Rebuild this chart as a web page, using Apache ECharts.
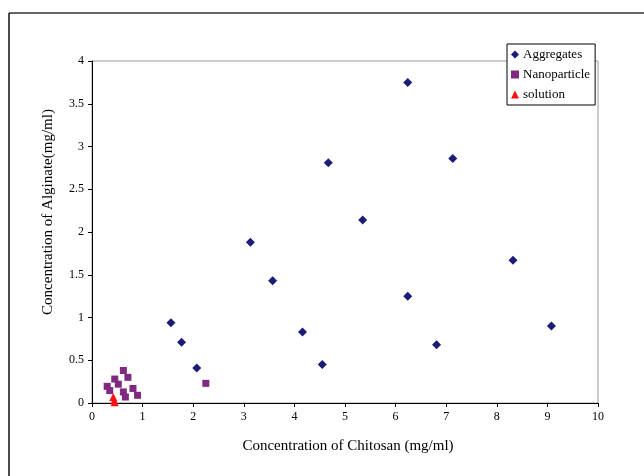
<!DOCTYPE html>
<html><head><meta charset="utf-8">
<script src="https://cdn.jsdelivr.net/npm/echarts@6/dist/echarts.min.js"></script>
<style>html,body{margin:0;padding:0;background:#fff}#c{width:644px;height:476px}</style>
</head><body><div id="c"></div>
<script>
const aggregates = [
  [1.56,0.94],[1.77,0.71],[2.07,0.41],[3.13,1.88],[3.57,1.43],[4.16,0.83],[4.55,0.45],
  [4.67,2.81],[5.35,2.14],[6.24,3.75],[6.24,1.25],[6.81,0.68],[7.13,2.86],[8.32,1.67],[9.08,0.90]
];
const nanoparticle = [
  [0.30,0.195],[0.35,0.145],[0.45,0.28],[0.52,0.22],[0.62,0.38],[0.71,0.30],
  [0.62,0.13],[0.66,0.07],[0.81,0.17],[0.90,0.09],[2.25,0.23]
];
const solution = [[0.42,0.07],[0.44,0.03],[0.45,0.01]];
const xTitle = 'Concentration of Chitosan (mg/ml)';
const yTitle = 'Concentration of Alginate(mg/ml)';
const font = '"Liberation Serif","Times New Roman",serif';
const chart = echarts.init(document.getElementById('c'));
chart.setOption({
  animation:false,
  textStyle:{fontFamily:font},
  graphic:[
    {type:'line',shape:{x1:9,y1:13,x2:644,y2:13},style:{stroke:'#333',lineWidth:1.5}},
    {type:'line',shape:{x1:9,y1:13,x2:9,y2:476},style:{stroke:'#111',lineWidth:1.5}},
    {type:'text',x:348,y:446,style:{text:xTitle,font:'15px '+font,fill:'#000',textAlign:'center',textVerticalAlign:'middle'}},
    {type:'text',x:48,y:212,rotation:Math.PI/2,style:{text:yTitle,font:'15px '+font,fill:'#000',textAlign:'center',textVerticalAlign:'middle'}}
  ],
  grid:{left:92,right:46,top:61,bottom:73,show:true,borderColor:'#999',borderWidth:1},
  legend:{
    left:507,top:44,orient:'vertical',itemGap:7,itemWidth:8,itemHeight:8,
    backgroundColor:'#fff',borderColor:'#000',borderWidth:1,padding:[4,5,4,4],
    textStyle:{fontFamily:font,fontSize:13,color:'#000',padding:[0,0,0,-1]},
    data:[{name:'Aggregates',icon:'diamond'},{name:'Nanoparticle',icon:'rect'},{name:'solution',icon:'triangle'}]
  },
  xAxis:{type:'value',min:0,max:10,interval:1,
    axisLine:{lineStyle:{color:'#000'}},axisTick:{lineStyle:{color:'#000'},length:4},
    axisLabel:{fontFamily:font,fontSize:12,color:'#000',margin:8},splitLine:{show:false}},
  yAxis:{type:'value',min:0,max:4,interval:0.5,
    axisLine:{show:true,lineStyle:{color:'#000'}},axisTick:{show:true,lineStyle:{color:'#000'},length:4},
    axisLabel:{fontFamily:font,fontSize:12,color:'#000',margin:8},splitLine:{show:false}},
  series:[
    {name:'Aggregates',type:'scatter',symbol:'diamond',symbolSize:9,data:aggregates,itemStyle:{color:'#1c1c78',opacity:1}},
    {name:'Nanoparticle',type:'scatter',symbol:'rect',symbolSize:7,data:nanoparticle,itemStyle:{color:'#7f2a80',opacity:1}},
    {name:'solution',type:'scatter',symbol:'triangle',symbolSize:8,data:solution,itemStyle:{color:'#ff1010',opacity:1}}
  ]
});
</script></body></html>
